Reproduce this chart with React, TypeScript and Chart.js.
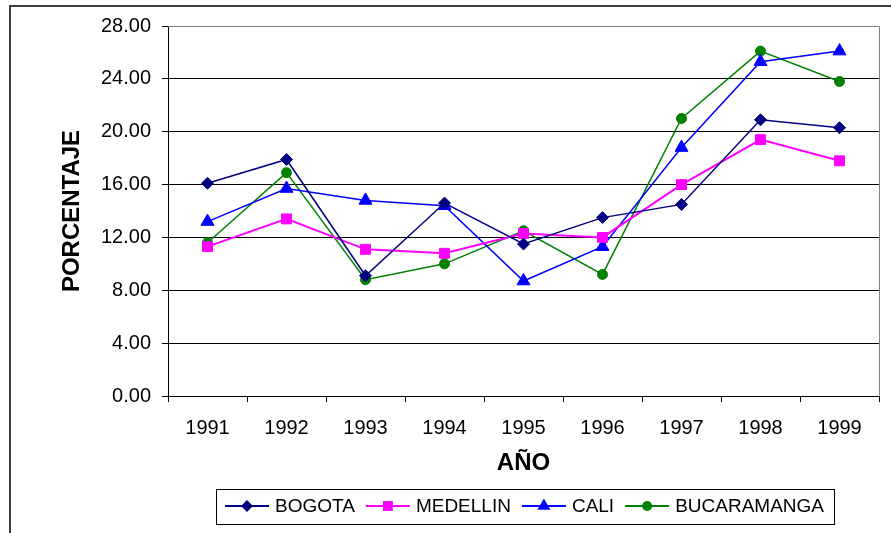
import React, { useEffect, useRef } from "react";
import { Chart, registerables } from "chart.js";

Chart.register(...registerables);

const YEARS = ["1991", "1992", "1993", "1994", "1995", "1996", "1997", "1998", "1999"];
const BOGOTA = [16.1, 17.9, 9.1, 14.6, 11.5, 13.5, 14.5, 20.9, 20.3];
const MEDELLIN = [11.3, 13.4, 11.1, 10.8, 12.3, 12.0, 16.0, 19.4, 17.8];
const CALI = [13.2, 15.7, 14.8, 14.4, 8.7, 11.3, 18.8, 25.3, 26.1];
const BUCARAMANGA = [11.6, 16.9, 8.8, 10.0, 12.5, 9.2, 21.0, 26.1, 23.8];
const SERIES_NAMES = ["BOGOTA", "MEDELLIN", "CALI", "BUCARAMANGA"];
const Y_MIN = 0;
const Y_MAX = 28;
const Y_STEP = 4;

const FONT = "'Liberation Sans', Arial, sans-serif";

function drawMarker(ctx: CanvasRenderingContext2D, style: string, x: number, y: number, r: number, color: string) {
  ctx.save();
  ctx.fillStyle = color;
  ctx.beginPath();
  if (style === "rectRot") {
    ctx.moveTo(x, y - r);
    ctx.lineTo(x + r, y);
    ctx.lineTo(x, y + r);
    ctx.lineTo(x - r, y);
    ctx.closePath();
  } else if (style === "rect") {
    const s = r * Math.SQRT1_2;
    ctx.rect(x - s, y - s, 2 * s, 2 * s);
  } else if (style === "triangle") {
    const sx = r * Math.sin((2 * Math.PI) / 3);
    const sy = -r * Math.cos((2 * Math.PI) / 3);
    ctx.moveTo(x, y - r);
    ctx.lineTo(x + sx, y + sy);
    ctx.lineTo(x - sx, y + sy);
    ctx.closePath();
  } else {
    ctx.arc(x, y, r, 0, Math.PI * 2);
  }
  ctx.fill();
  ctx.restore();
}

const framePlugin = {
  id: "frame",
  beforeDatasetsDraw(chart: any) {
    const { ctx, chartArea } = chart;
    ctx.save();
    ctx.strokeStyle = "#808080";
    ctx.lineWidth = 1;
    ctx.beginPath();
    ctx.moveTo(chartArea.left, chartArea.top + 0.5);
    ctx.lineTo(chartArea.right + 0.5, chartArea.top + 0.5);
    ctx.lineTo(chartArea.right + 0.5, chartArea.bottom);
    ctx.stroke();
    ctx.restore();
  },
  afterDraw(chart: any) {
    const { ctx } = chart;
    ctx.save();
    ctx.strokeStyle = "#404040";
    ctx.lineWidth = 2;
    ctx.strokeRect(10, 6, 2000, 2000);

    ctx.strokeStyle = "#000";
    ctx.lineWidth = 1;
    ctx.strokeRect(216.5, 489.5, 618, 35);
    ctx.font = `19px ${FONT}`;
    ctx.textBaseline = "middle";
    ctx.textAlign = "left";
    let x = 225;
    const y = 506;
    chart.data.datasets.forEach((ds: any) => {
      ctx.strokeStyle = ds.borderColor;
      ctx.lineWidth = 2;
      ctx.beginPath();
      ctx.moveTo(x, y);
      ctx.lineTo(x + 44, y);
      ctx.stroke();
      drawMarker(ctx, ds.pointStyle, x + 22, y, ds.pointRadius, ds.pointBackgroundColor);
      ctx.fillStyle = "#000";
      ctx.fillText(ds.label, x + 50, y + 1);
      x += 50 + ctx.measureText(ds.label).width + 11;
    });
    ctx.restore();
  },
};

export default function App() {
  const ref = useRef<HTMLCanvasElement>(null);

  useEffect(() => {
    if (!ref.current) return;
    const mk = (label: string, data: number[], color: string, style: string, r: number, w: number) => ({
      label,
      data,
      borderColor: color,
      backgroundColor: color,
      pointBackgroundColor: color,
      pointBorderColor: color,
      pointStyle: style,
      pointRadius: r,
      pointBorderWidth: 1,
      borderWidth: w,
      tension: 0,
      fill: false,
    });
    const chart = new Chart(ref.current, {
      type: "line",
      data: {
        labels: YEARS,
        datasets: [
          mk(SERIES_NAMES[0], BOGOTA, "#000080", "rectRot", 6, 1.5),
          mk(SERIES_NAMES[1], MEDELLIN, "#FF00FF", "rect", 7, 2),
          mk(SERIES_NAMES[2], CALI, "#0000FF", "triangle", 7.5, 1.5),
          mk(SERIES_NAMES[3], BUCARAMANGA, "#008000", "circle", 5, 1.5),
        ] as any,
      },
      options: {
        animation: false,
        responsive: false,
        layout: { padding: { left: 0, top: 26, right: 12, bottom: 0 } },
        plugins: { legend: { display: false }, tooltip: { enabled: false } },
        scales: {
          x: {
            offset: true,
            grid: { offset: true, drawOnChartArea: false, drawTicks: true, tickLength: 6, tickColor: "#000" },
            border: { color: "#000", width: 1 },
            ticks: { color: "#000", padding: 14, font: { family: FONT, size: 20 }, maxRotation: 0 },
            title: {
              display: true,
              text: "AÑO",
              color: "#000",
              font: { family: FONT, size: 24, weight: "bold" },
              padding: { top: 0, bottom: 55 },
            },
            afterFit(scale: any) {
              scale.height = 137;
            },
          },
          y: {
            min: Y_MIN,
            max: Y_MAX,
            grid: {
              color: (c: any) => (c.tick && c.tick.value === Y_MAX ? "#808080" : "#000"),
              tickColor: "#000",
              tickLength: 6,
            },
            border: { color: "#000", width: 1 },
            ticks: {
              stepSize: Y_STEP,
              color: "#000",
              padding: 11,
              font: { family: FONT, size: 20 },
              callback: (v: any) => Number(v).toFixed(2),
            },
            title: {
              display: true,
              text: "PORCENTAJE",
              color: "#000",
              font: { family: FONT, size: 24, weight: "bold" },
              padding: { top: 58, bottom: 0 },
            },
            afterFit(scale: any) {
              scale.width = 168;
            },
          },
        },
      },
      plugins: [framePlugin],
    });
    return () => chart.destroy();
  }, []);

  return (
    <div style={{ position: "fixed", left: 0, top: 0, width: 891, height: 533, background: "#fff" }}>
      <canvas ref={ref} width={891} height={533} style={{ width: 891, height: 533, display: "block" }} />
    </div>
  );
}
